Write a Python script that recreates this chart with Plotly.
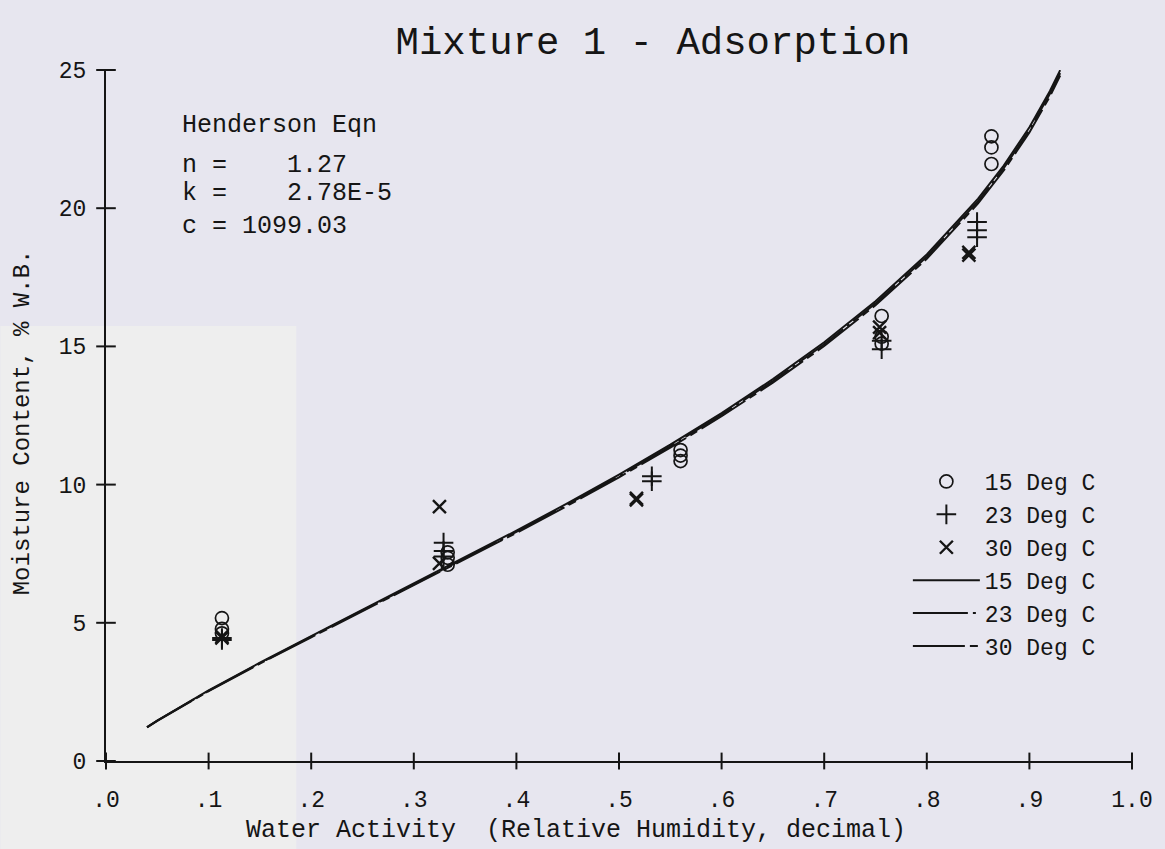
import plotly.graph_objects as go

# Measured equilibrium moisture content (% wet basis) vs. water activity
aw_15 = [0.113, 0.113, 0.113, 0.333, 0.333, 0.333, 0.560, 0.560, 0.560,
         0.756, 0.756, 0.756, 0.863, 0.863, 0.863]
mc_15 = [5.17, 4.78, 4.62, 7.55, 7.35, 7.10, 11.25, 11.05, 10.85,
         16.10, 15.35, 15.10, 22.60, 22.20, 21.60]

aw_23 = [0.113, 0.113, 0.329, 0.329, 0.329, 0.532, 0.532,
         0.756, 0.756, 0.849, 0.849, 0.849]
mc_23 = [4.45, 4.38, 7.90, 7.60, 7.40, 10.30, 10.12,
         15.20, 14.90, 19.50, 19.20, 18.95]

aw_30 = [0.113, 0.113, 0.325, 0.325, 0.517, 0.517, 0.754, 0.754, 0.841, 0.841]
mc_30 = [4.50, 4.45, 9.20, 7.15, 9.45, 9.50, 15.70, 15.50, 18.40, 18.30]

# Henderson equation fits, one curve per temperature
aw_fit = [0.04, 0.05, 0.10, 0.15, 0.20, 0.25, 0.30, 0.35, 0.40, 0.45, 0.50,
          0.55, 0.60, 0.65, 0.70, 0.75, 0.80, 0.85, 0.875, 0.90, 0.92, 0.93]
mc_fit_15 = [1.228, 1.466, 2.555, 3.558, 4.521, 5.467, 6.411, 7.363, 8.332,
             9.328, 10.361, 11.443, 12.587, 13.814, 15.149, 16.633, 18.327,
             20.344, 21.540, 22.928, 24.241, 24.994]
mc_fit_23 = [1.221, 1.458, 2.541, 3.539, 4.497, 5.438, 6.377, 7.324, 8.289,
             9.281, 10.309, 11.386, 12.526, 13.748, 15.078, 16.556, 18.243,
             20.254, 21.446, 22.829, 24.137, 24.888]
mc_fit_30 = [1.215, 1.451, 2.529, 3.522, 4.476, 5.413, 6.348, 7.291, 8.252,
             9.239, 10.264, 11.336, 12.472, 13.689, 15.015, 16.488, 18.170,
             20.175, 21.364, 22.742, 24.048, 24.799]

x_ticks = [0.0, 0.1, 0.2, 0.3, 0.4, 0.5, 0.6, 0.7, 0.8, 0.9, 1.0]
x_tick_text = [".0", ".1", ".2", ".3", ".4", ".5", ".6", ".7", ".8", ".9", "1.0"]
y_ticks = [0, 5, 10, 15, 20, 25]
y_tick_text = ["0", "5", "10", "15", "20", "25"]

FONT = "Liberation Mono"
INK = "#151515"
BG = "#e7e6ef"
NB = "\u00a0"

fig = go.Figure()

fig.add_trace(go.Scatter(
    x=aw_15, y=mc_15, mode="markers", name="15 Deg C",
    marker=dict(symbol="circle-open", size=13, color=INK, line=dict(width=1.7, color=INK)),
))
fig.add_trace(go.Scatter(
    x=aw_23, y=mc_23, mode="markers", name="23 Deg C",
    marker=dict(symbol="cross-thin-open", size=14, color=INK, line=dict(width=2, color=INK)),
))
fig.add_trace(go.Scatter(
    x=aw_30, y=mc_30, mode="markers", name="30 Deg C",
    marker=dict(symbol="x-thin-open", size=13, color=INK, line=dict(width=2.4, color=INK)),
))
fig.add_trace(go.Scatter(
    x=aw_fit, y=mc_fit_15, mode="lines", name="15 Deg C",
    line=dict(color=INK, width=2, dash="solid"),
))
fig.add_trace(go.Scatter(
    x=aw_fit, y=mc_fit_23, mode="lines", name="23 Deg C",
    line=dict(color=INK, width=2, dash="55px,5px,3px,5px"),
))
fig.add_trace(go.Scatter(
    x=aw_fit, y=mc_fit_30, mode="lines", name="30 Deg C",
    line=dict(color=INK, width=2, dash="52px,5px,8px,5px"),
))

# tick marks that cross the axis lines
fig.add_trace(go.Scatter(
    x=[0] * len(y_ticks), y=y_ticks, mode="markers", showlegend=False, hoverinfo="skip",
    cliponaxis=False,
    marker=dict(symbol="line-ew", size=14, line=dict(width=2, color=INK)),
))
fig.add_trace(go.Scatter(
    x=x_ticks, y=[0] * len(x_ticks), mode="markers", showlegend=False, hoverinfo="skip",
    cliponaxis=False,
    marker=dict(symbol="line-ns", size=12, line=dict(width=2, color=INK)),
))

# Henderson equation parameters
param_lines = [
    ("Henderson Eqn", 125),
    ("n =" + NB * 4 + "1.27", 165),
    ("k =" + NB * 4 + "2.78E-5", 193),
    ("c = 1099.03", 226),
]

W, H = 1165, 849
L, R, T, B = 106, 29, 70, 88
pw, ph = W - L - R, H - T - B


def px_x(px):
    return (px - L) / pw


def px_y(py):
    return (H - B - py) / ph


annotations = []
for text, py in param_lines:
    annotations.append(dict(
        text=text, x=px_x(180), y=px_y(py), xref="paper", yref="paper",
        xanchor="left", yanchor="middle", showarrow=False,
        font=dict(family=FONT, size=25, color=INK),
    ))

annotations.append(dict(
    text="Water Activity" + NB * 2 + "(Relative Humidity," + NB + "decimal)",
    x=px_x(578), y=px_y(830), xref="paper", yref="paper",
    xanchor="center", yanchor="middle", showarrow=False,
    font=dict(family=FONT, size=25, color=INK),
))
annotations.append(dict(
    text="Moisture Content, % W.B.",
    x=px_x(22), y=px_y(422), xref="paper", yref="paper", textangle=-90,
    xanchor="center", yanchor="middle", showarrow=False,
    font=dict(family=FONT, size=24, color=INK),
))

fig.update_layout(
    width=W, height=H,
    margin=dict(l=L, r=R, t=T, b=B, pad=0),
    paper_bgcolor=BG,
    plot_bgcolor="rgba(0,0,0,0)",
    font=dict(family=FONT, size=23, color=INK),
    title=dict(
        text="Mixture 1 - Adsorption",
        x=653 / W, xanchor="center", y=1 - 40 / H, yanchor="middle",
        font=dict(family=FONT, size=39, color=INK),
    ),
    xaxis=dict(
        range=[0, 1], tickvals=x_ticks, ticktext=x_tick_text, ticks="",
        showline=True, linecolor=INK, linewidth=2, showgrid=False, zeroline=False,
        ticklabelstandoff=16, tickfont=dict(family=FONT, size=23, color=INK),
    ),
    yaxis=dict(
        range=[0, 25], tickvals=y_ticks, ticktext=y_tick_text, ticks="",
        showline=True, linecolor=INK, linewidth=2, showgrid=False, zeroline=False,
        ticklabelstandoff=13, tickfont=dict(family=FONT, size=23, color=INK),
    ),
    legend=dict(
        x=px_x(911), y=px_y(460), xanchor="left", yanchor="top",
        bgcolor="rgba(0,0,0,0)", borderwidth=0, itemwidth=67,
        font=dict(family=FONT, size=23, color=INK), tracegroupgap=0,
    ),
    annotations=annotations,
    shapes=[dict(
        type="rect", xref="paper", yref="paper", layer="below",
        x0=px_x(0), x1=px_x(297), y0=px_y(H), y1=px_y(326),
        fillcolor="#eeeeee", line=dict(width=0),
    )],
    showlegend=True,
)

fig.write_html("out.html")
